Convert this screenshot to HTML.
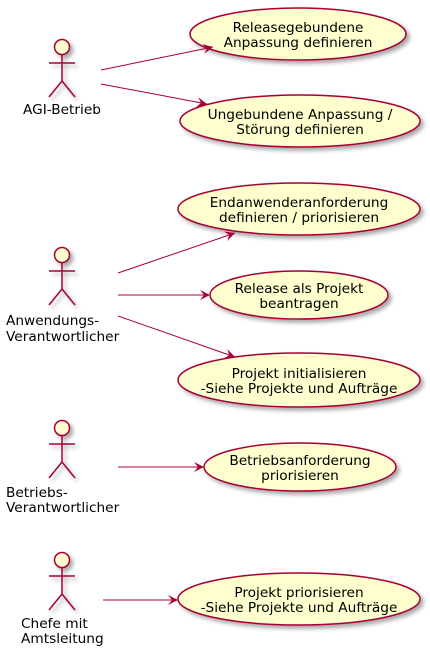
<!DOCTYPE html>
<html><head><meta charset="utf-8"><style>
html,body{margin:0;padding:0;background:#fff;}
svg text{font-family:"DejaVu Sans","Liberation Sans",sans-serif;font-size:13.7px;fill:#000;}
</style></head><body>
<svg width="430" height="657" viewBox="0 0 430 657" xmlns="http://www.w3.org/2000/svg">
<defs>
<filter id="sh" x="-20%" y="-20%" width="140%" height="150%"><feGaussianBlur in="SourceAlpha" stdDeviation="2"/><feOffset dx="3" dy="3"/><feComponentTransfer><feFuncA type="linear" slope="0.35"/></feComponentTransfer><feMerge><feMergeNode/><feMergeNode in="SourceGraphic"/></feMerge></filter>
<g id="actor">
<circle cx="0" cy="0" r="7.5" fill="#FEFECE" stroke="#A80036" stroke-width="1.5"/>
<path d="M0 7.5 V34 M-13 16 H13 M0 34 L-13 50 M0 34 L13 50" fill="none" stroke="#A80036" stroke-width="1.5"/>
</g>
<marker id="ar" markerWidth="12" markerHeight="10" refX="10" refY="5" orient="auto" markerUnits="userSpaceOnUse"><path d="M0 0 L10 5 L0 10 L4 5 Z" fill="#A80036"/></marker>
</defs>
<g filter="url(#sh)">
<use href="#actor" x="62" y="47"/>
<use href="#actor" x="62" y="255"/>
<use href="#actor" x="62" y="428"/>
<use href="#actor" x="62" y="560"/>
</g>
<text x="62" y="114" text-anchor="middle">AGI-Betrieb</text>
<text x="6" y="325">Anwendungs-</text>
<text x="6" y="341">Verantwortlicher</text>
<text x="6" y="497">Betriebs-</text>
<text x="6" y="512">Verantwortlicher</text>
<text x="21" y="628">Chefe mit</text>
<text x="21" y="643">Amtsleitung</text>

<g fill="#FEFECE" stroke="#A80036" stroke-width="1.5" filter="url(#sh)">
<ellipse cx="298" cy="34" rx="108" ry="26"/>
<ellipse cx="300" cy="121" rx="120" ry="26"/>
<ellipse cx="299" cy="209" rx="121" ry="26"/>
<ellipse cx="299" cy="295" rx="89" ry="24"/>
<ellipse cx="299" cy="380" rx="121" ry="27"/>
<ellipse cx="300" cy="467" rx="96" ry="24"/>
<ellipse cx="299" cy="599" rx="121" ry="26"/>
</g>
<g text-anchor="middle">
<text x="298" y="32">Releasegebundene</text><text x="298" y="47">Anpassung definieren</text>
<text x="300" y="119">Ungebundene Anpassung /</text><text x="300" y="134">Störung definieren</text>
<text x="299" y="207">Endanwenderanforderung</text><text x="299" y="222">definieren / priorisieren</text>
<text x="299" y="293">Release als Projekt</text><text x="299" y="308">beantragen</text>
<text x="299" y="378">Projekt initialisieren</text><text x="299" y="393">-Siehe Projekte und Aufträge</text>
<text x="300" y="465">Betriebsanforderung</text><text x="300" y="480">priorisieren</text>
<text x="299" y="597">Projekt priorisieren</text><text x="299" y="612">-Siehe Projekte und Aufträge</text>
</g>
<g stroke="#A80036" stroke-width="1" fill="none" marker-end="url(#ar)">
<line x1="101" y1="70" x2="213" y2="47"/>
<line x1="101" y1="84" x2="207" y2="104"/>
<line x1="118" y1="273" x2="235" y2="233"/>
<line x1="118" y1="295" x2="210" y2="295"/>
<line x1="118" y1="316" x2="235" y2="357"/>
<line x1="118" y1="467" x2="204" y2="467"/>
<line x1="103" y1="600" x2="178" y2="600"/>
</g>
</svg>
</body></html>
